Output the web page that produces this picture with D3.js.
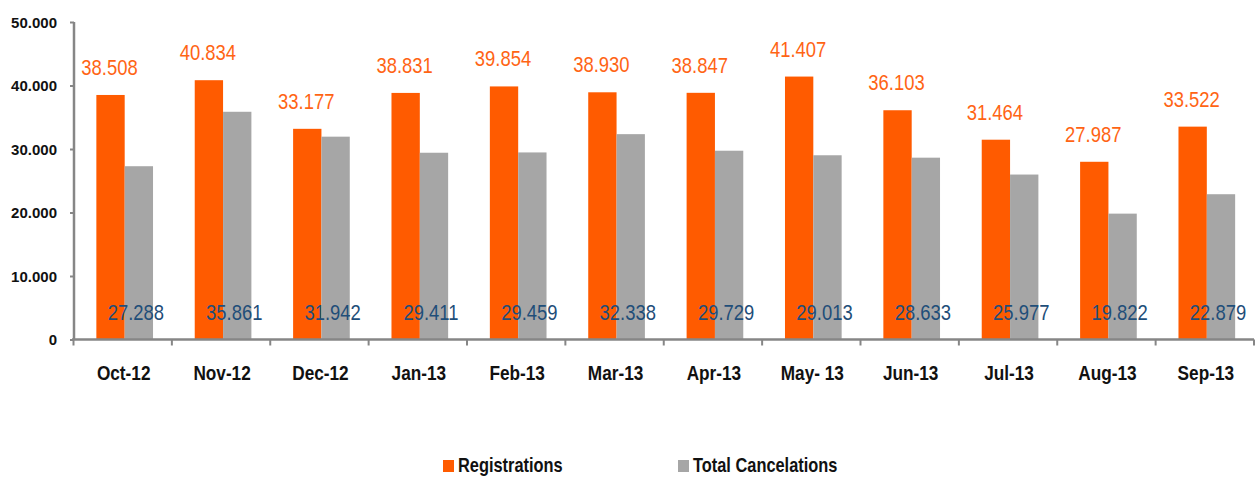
<!DOCTYPE html>
<html><head><meta charset="utf-8">
<script src="https://cdn.jsdelivr.net/npm/d3@7"></script>
<style>html,body{margin:0;padding:0;background:#fff;}svg{display:block;}</style>
</head><body><svg id="c" width="1258" height="477"></svg>
<script>
const categories = ["Oct-12","Nov-12","Dec-12","Jan-13","Feb-13","Mar-13","Apr-13","May- 13","Jun-13","Jul-13","Aug-13","Sep-13"];
const registrations = [38508,40834,33177,38831,39854,38930,38847,41407,36103,31464,27987,33522];
const cancelations = [27288,35861,31942,29411,29459,32338,29729,29013,28633,25977,19822,22879];
const yTicks = [0,10000,20000,30000,40000,50000];
const seriesNames = ["Registrations","Total Cancelations"];

const FONT = "'Liberation Sans',Arial,sans-serif";
const SX = 0.82; // horizontal condensation to mimic a narrow face
const fmt = v => d3.format(",")(v).replace(/,/g,".");
const svg = d3.select("#c");
const x = d3.scaleBand().domain(categories).range([73.5,1254]).paddingInner(0).paddingOuter(0);
const y = d3.scaleLinear().domain([0,50000]).range([339.5,22]);
const bw = x.bandwidth();
const barW = bw*0.288;
const shift = 2;
const ORANGE="#FF5B00", GRAY="#A6A6A6", AXIS="#868686";

function narrowText(sel, fx, fy){
  sel.attr("transform",(d,i)=>`translate(${fx(d,i)},${fy(d,i)}) scale(${SX},1)`)
     .attr("font-family",FONT);
  return sel;
}

// bars
const g = svg.append("g");
g.selectAll("rect.r").data(registrations).join("rect")
  .attr("x",(d,i)=>x(categories[i])+bw/2+shift-barW).attr("y",d=>y(d))
  .attr("width",barW).attr("height",d=>y(0)-y(d)).attr("fill",ORANGE);
g.selectAll("rect.c").data(cancelations).join("rect")
  .attr("x",(d,i)=>x(categories[i])+bw/2+shift).attr("y",d=>y(d))
  .attr("width",barW).attr("height",d=>y(0)-y(d)).attr("fill",GRAY);

// axes
const yAxis = d3.axisLeft(y).tickValues(yTicks).tickSize(4).tickFormat(fmt);
const ya = svg.append("g").attr("transform","translate(74,0)").call(yAxis);
ya.select(".domain").attr("stroke",AXIS).attr("stroke-width",2.5).attr("d","M0,"+y(50000)+"V"+y(0));
ya.selectAll(".tick line").attr("stroke",AXIS).attr("stroke-width",2);
ya.selectAll(".tick text").attr("x",-17).attr("dy","0.35em")
  .attr("font-family",FONT).attr("font-weight","bold").attr("font-size",15).attr("fill","#111");

const xa = svg.append("g").attr("transform","translate(0,"+y(0)+")");
xa.append("line").attr("x1",72).attr("x2",1254).attr("stroke",AXIS).attr("stroke-width",2.5);
xa.selectAll("line.t").data(categories.concat([null])).join("line")
  .attr("x1",(d,i)=> i<categories.length ? x(d) : x(categories[i-1])+bw)
  .attr("x2",(d,i)=> i<categories.length ? x(d) : x(categories[i-1])+bw)
  .attr("y1",0).attr("y2",6).attr("stroke",AXIS).attr("stroke-width",2);
narrowText(xa.selectAll("text").data(categories).join("text"), d=>x(d)+bw/2+1, ()=>40)
  .attr("text-anchor","middle").attr("font-weight","bold").attr("font-size",21).attr("fill","#111").text(d=>d);

// labels
narrowText(svg.selectAll("text.rl").data(registrations).join("text").attr("class","rl"),
  (d,i)=>x(categories[i])+bw/2+shift-barW/2-1, d=>y(d)-20)
  .attr("text-anchor","middle").attr("font-size",22.5).attr("fill","#FF6414").text(fmt);
narrowText(svg.selectAll("text.cl").data(cancelations).join("text").attr("class","cl"),
  (d,i)=>x(categories[i])+bw/2+shift+barW/2-3, ()=>y(0)-20)
  .attr("text-anchor","middle").attr("font-size",22.5).attr("fill","#1F4E79").text(fmt);

// legend
const leg = svg.append("g");
const legX = [443,678];
const legC = [ORANGE,GRAY];
seriesNames.forEach((n,i)=>{
  leg.append("rect").attr("x",legX[i]).attr("y",460).attr("width",11).attr("height",12).attr("fill",legC[i]);
  leg.append("text").attr("transform",`translate(${legX[i]+15},472) scale(${SX},1)`).attr("font-family",FONT).attr("font-weight","bold")
    .attr("font-size",20).attr("fill","#111").text(n);
});
</script></body></html>
